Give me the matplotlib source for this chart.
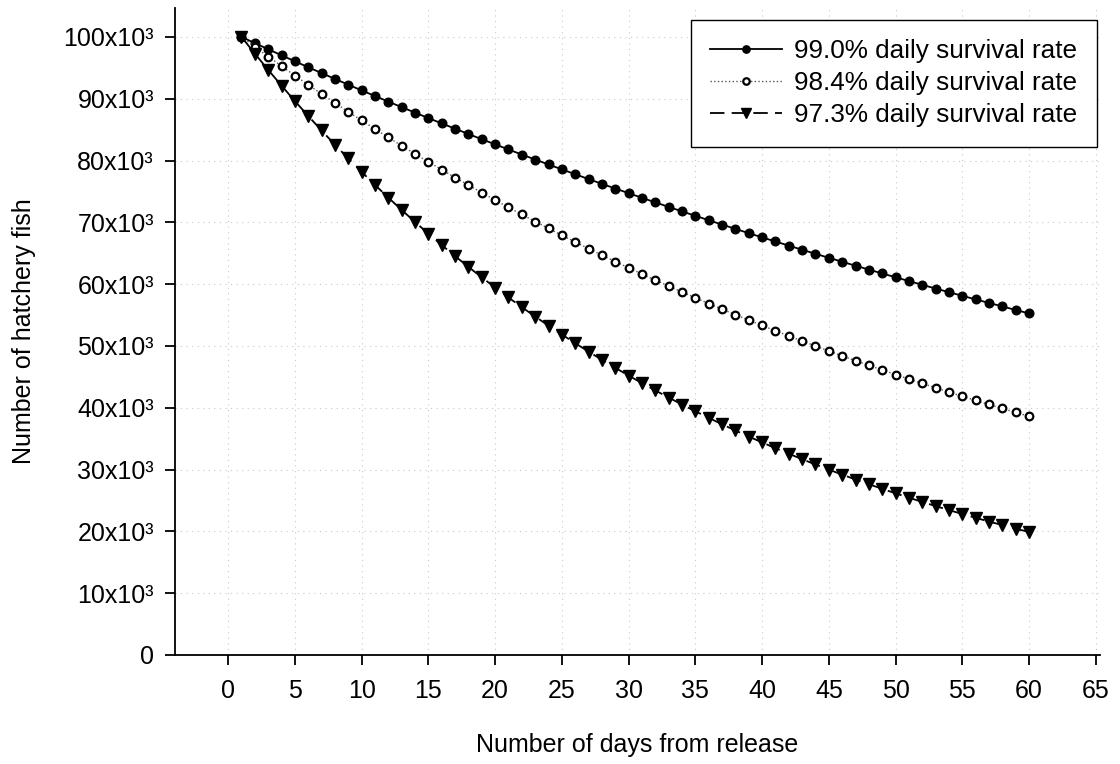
import matplotlib
matplotlib.use("Agg")
import matplotlib.pyplot as plt
from matplotlib.ticker import FuncFormatter

plt.rcParams["font.family"] = ["Liberation Sans", "DejaVu Sans"]

# day 1..60 after release
days = list(range(1, 61))

# number of fish, in thousands
surv_990 = [100.0, 99.0, 98.01, 97.03, 96.06, 95.10, 94.15, 93.21, 92.27, 91.35,
            90.44, 89.53, 88.64, 87.75, 86.87, 86.01, 85.15, 84.29, 83.45, 82.62,
            81.79, 80.97, 80.16, 79.36, 78.57, 77.78, 77.00, 76.23, 75.47, 74.72,
            73.97, 73.23, 72.50, 71.77, 71.06, 70.34, 69.64, 68.94, 68.25, 67.57,
            66.90, 66.23, 65.56, 64.91, 64.26, 63.62, 62.98, 62.35, 61.73, 61.11,
            60.50, 59.89, 59.29, 58.70, 58.11, 57.53, 56.96, 56.39, 55.82, 55.26]
surv_984 = [100.0, 98.40, 96.83, 95.28, 93.75, 92.25, 90.78, 89.32, 87.89, 86.49,
            85.10, 83.74, 82.40, 81.08, 79.79, 78.51, 77.25, 76.02, 74.80, 73.61,
            72.43, 71.27, 70.13, 69.01, 67.90, 66.82, 65.75, 64.69, 63.66, 62.64,
            61.64, 60.65, 59.68, 58.73, 57.79, 56.86, 55.95, 55.06, 54.18, 53.31,
            52.46, 51.62, 50.79, 49.98, 49.18, 48.39, 47.62, 46.86, 46.11, 45.37,
            44.64, 43.93, 43.23, 42.53, 41.85, 41.18, 40.53, 39.88, 39.24, 38.61]
surv_973 = [100.0, 97.30, 94.67, 92.12, 89.63, 87.21, 84.86, 82.56, 80.33, 78.17,
            76.06, 74.00, 72.00, 70.06, 68.17, 66.33, 64.54, 62.79, 61.10, 59.45,
            57.84, 56.28, 54.76, 53.28, 51.85, 50.45, 49.08, 47.76, 46.47, 45.21,
            43.99, 42.81, 41.65, 40.52, 39.43, 38.37, 37.33, 36.32, 35.34, 34.39,
            33.46, 32.56, 31.68, 30.82, 29.99, 29.18, 28.39, 27.63, 26.88, 26.15,
            25.45, 24.76, 24.09, 23.44, 22.81, 22.19, 21.59, 21.01, 20.44, 19.89]

labels = ["99.0% daily survival rate",
          "98.4% daily survival rate",
          "97.3% daily survival rate"]

x_ticks = list(range(0, 70, 5))
y_ticks = list(range(0, 110, 10))

fig = plt.figure(figsize=(11.2, 7.64), dpi=100)
ax = fig.add_axes([0.156, 0.1427, 0.826, 0.847])

ax.plot(days, surv_990, "-", color="black", linewidth=1.3,
        marker="o", markersize=6.2, markerfacecolor="black", label=labels[0], zorder=3)
ax.plot(days, surv_984, ":", color="#555555", linewidth=1.0,
        marker="o", markersize=5.5, markerfacecolor="white", markeredgecolor="black",
        markeredgewidth=1.6, label=labels[1], zorder=3)
ax.plot(days, surv_973, "--", color="black", linewidth=1.3, dashes=(8, 4),
        marker="v", markersize=8.3, markerfacecolor="black", label=labels[2], zorder=3)

ax.set_xlim(-4, 65.3)
ax.set_ylim(0, 104.7)
ax.set_xticks(x_ticks)
ax.set_yticks(y_ticks)
ax.yaxis.set_major_formatter(FuncFormatter(
    lambda v, p: "0" if v == 0 else f"{int(v)}x10\u00b3"))

ax.grid(True, linestyle=(0, (1, 4)), color="#c8c8c8", linewidth=0.8, zorder=0)
ax.spines["top"].set_visible(False)
ax.spines["right"].set_visible(False)
ax.spines["left"].set_linewidth(1.3)
ax.spines["bottom"].set_linewidth(1.3)
ax.tick_params(direction="out", length=7, width=1.3, labelsize=18, pad=8)
ax.tick_params(axis="x", pad=10)

ax.set_xlabel("Number of days from release", fontsize=18, labelpad=22)
ax.set_ylabel("Number of hatchery fish", fontsize=18, labelpad=20)

leg = ax.legend(loc="upper right", bbox_to_anchor=(0.9968, 0.9815), fontsize=18.8,
                frameon=True, fancybox=False, edgecolor="black", framealpha=1,
                handlelength=2.75, handletextpad=0.46, borderpad=0.75,
                labelspacing=0.3, borderaxespad=0, markerscale=0.85)
leg.get_frame().set_linewidth(1.0)

fig.savefig("out.png", dpi=100)
